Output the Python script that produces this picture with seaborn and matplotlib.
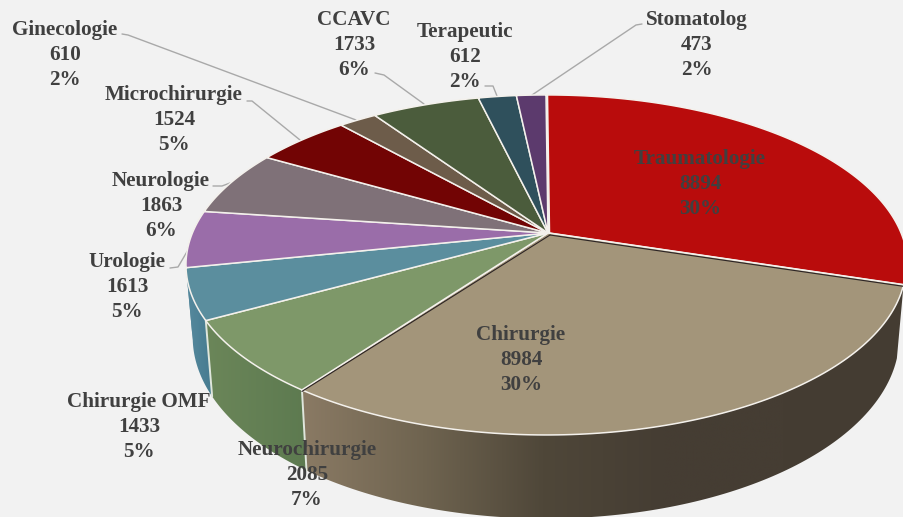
import numpy as np
import seaborn as sns
import matplotlib.pyplot as plt
from matplotlib.patches import Polygon

# data, clockwise from 12 o'clock
sections = ['Traumatologie', 'Chirurgie', 'Neurochirurgie', 'Chirurgie OMF', 'Urologie', 'Neurologie',
            'Microchirurgie', 'Ginecologie', 'CCAVC', 'Terapeutic', 'Stomatolog']
counts = [8894, 8984, 2085, 1433, 1613, 1863, 1524, 610, 1733, 612, 473]
percents = [30, 30, 7, 5, 5, 6, 5, 2, 6, 2, 2]

top_colors = ['#b90c0c', '#a3957a', '#7e9869', '#5b8e9e', '#9a6da9', '#7f7178',
              '#720404', '#6d5c4a', '#4b5c3c', '#2f505c', '#5c3a6d']
side_colors = {
    1: ['#8a7a64', '#6f6450', '#4f4739', '#453d33', '#453d33', '#443c32'],
    2: ['#6b8659', '#5d7a50'],
    3: ['#578a9e', '#457a8f'],
    4: ['#578a9e', '#457a8f'],
}

# label centres in pixels
label_pos = {
    'Traumatologie': (700, 184), 'Chirurgie': (521, 360), 'Neurochirurgie': (307, 475),
    'Chirurgie OMF': (139, 427), 'Urologie': (127, 287), 'Neurologie': (161, 206),
    'Microchirurgie': (174, 120), 'Ginecologie': (65, 55), 'CCAVC': (354, 45),
    'Terapeutic': (465, 57), 'Stomatolog': (697, 45),
}
leaders = [
    [(122, 34), (128, 35), (356, 120)],
    [(375, 73), (384, 75), (424, 104)],
    [(247, 101), (252, 101), (300, 140)],
    [(213, 186), (222, 186), (230, 183)],
    [(170, 268), (178, 267), (188, 250)],
    [(485, 86), (493, 86), (497, 96)],
    [(642, 24), (636, 25), (532, 95)],
]

sns.set_theme(style='white')
plt.rcParams['font.family'] = ['Liberation Serif', 'DejaVu Serif']

bg = '#f2f2f2'
fig = plt.figure(figsize=(9.04, 5.17), dpi=100, facecolor=bg)
ax = fig.add_axes([0, 0, 1, 1])
ax.set_facecolor(bg)


# tilted disc seen in perspective
def top_xy(a):
    u, v = np.cos(a), np.sin(a)
    w = 1 + 0.188 * v
    return 546 + 353.6 * u / w, 233 - 164 * v / w


def bottom_xy(a):
    u, v = np.cos(a), np.sin(a)
    w = 1 + 0.188 * v
    return 546 + 347 * u / w, 303 - 175 * v / w


edges = np.pi / 2 - 2 * np.pi * np.concatenate([[0], np.cumsum(counts)]) / sum(counts)

# sides first, gradient runs left to right
for i, cols in side_colors.items():
    a = np.linspace(edges[i], edges[i + 1], 120)
    tx, ty = top_xy(a)
    bx, by = bottom_xy(a)
    pts = np.column_stack([np.r_[tx, bx[::-1]], np.r_[ty, by[::-1]]])
    cmap = sns.blend_palette(cols, as_cmap=True)
    im = ax.imshow(np.linspace(0, 1, 256)[None, :], cmap=cmap, aspect='auto',
                   extent=(pts[:, 0].min(), pts[:, 0].max(), pts[:, 1].max(), pts[:, 1].min()))
    im.set_clip_path(Polygon(pts, transform=ax.transData))

# white seams on the side wall
for i in [2, 3]:
    tx, ty = top_xy(edges[i])
    bx, by = bottom_xy(edges[i])
    ax.plot([tx, bx], [ty, by], color='#dfe6dc', lw=1.4)

# top faces
for i, col in enumerate(top_colors):
    a = np.linspace(edges[i], edges[i + 1], 120)
    tx, ty = top_xy(a)
    ox = 1.5 if i == 0 else 0
    ax.fill(np.r_[548 + ox, tx + ox], np.r_[233, ty], color=col, ec='#f4f1ec', lw=1.1, zorder=3)

# dark hairlines under the two front radial edges
for i in [1, 2]:
    tx, ty = top_xy(edges[i])
    ax.plot([550, tx], [235, ty + 1.5], color='#2c2424', lw=0.8, zorder=4)

for line in leaders:
    xs, ys = zip(*line)
    ax.plot(xs, ys, color='#a9a9a9', lw=1, zorder=2)

for name, n, p in zip(sections, counts, percents):
    x, y = label_pos[name]
    ax.text(x, y, f'{name}\n{n}\n{p}%', ha='center', va='center', fontsize=15.2,
            fontweight='bold', color='#404040', linespacing=1.31, zorder=5)

ax.set_xlim(0, 904)
ax.set_ylim(517, 0)
ax.axis('off')

fig.savefig('out.png', dpi=100, facecolor=bg)
